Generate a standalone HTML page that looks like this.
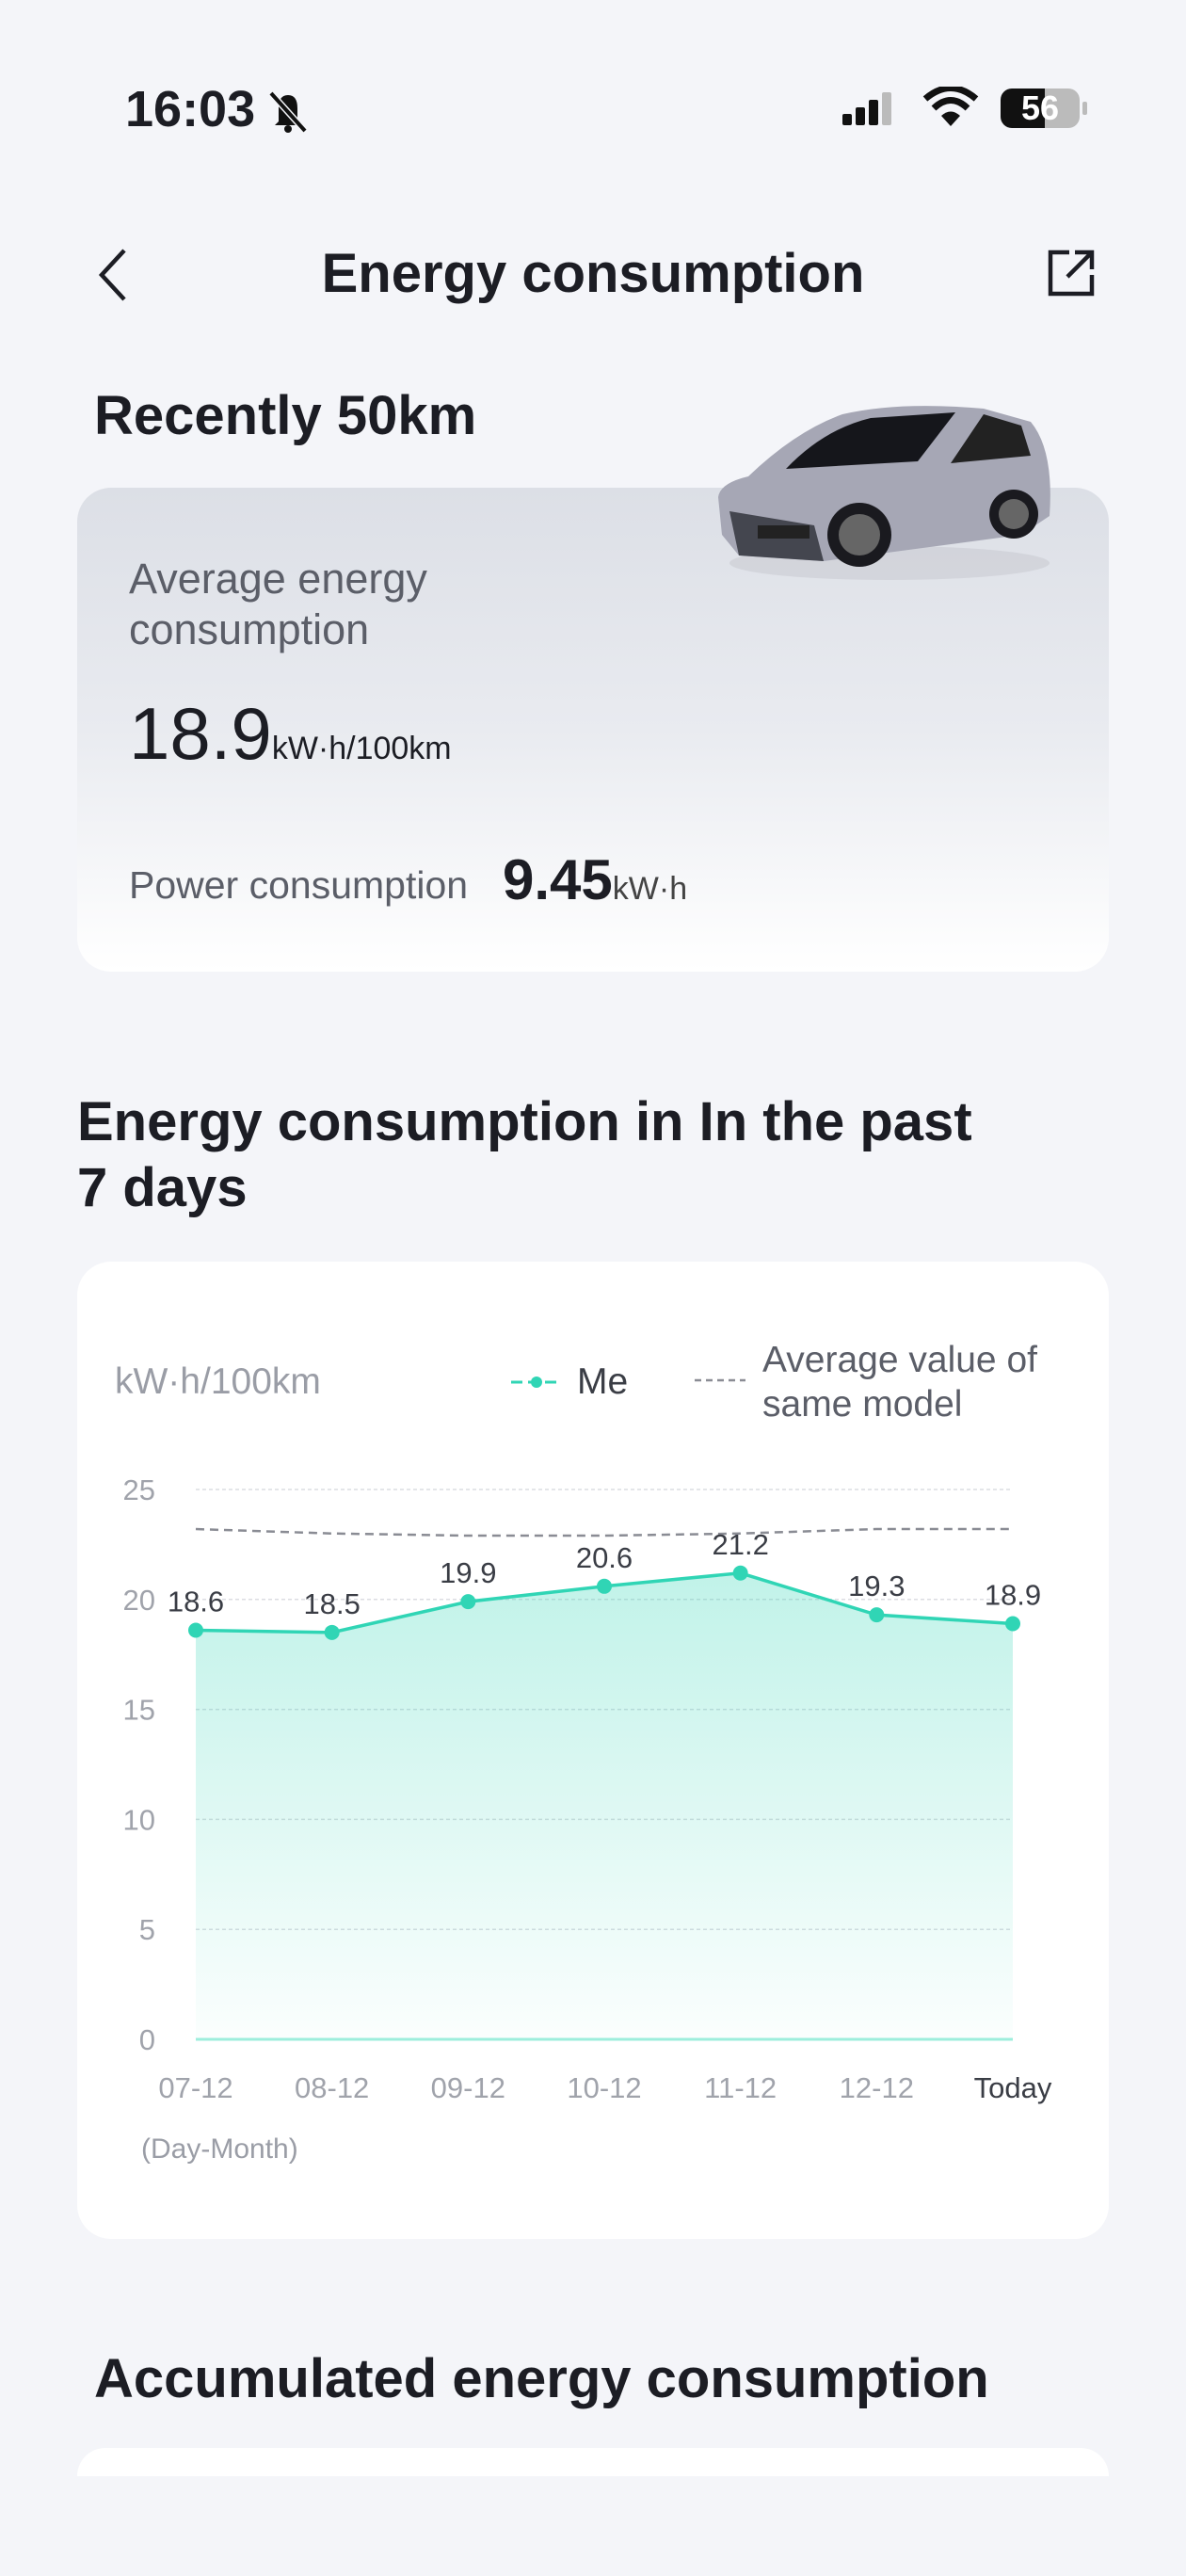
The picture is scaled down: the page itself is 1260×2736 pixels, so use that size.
<!DOCTYPE html>
<html><head><meta charset="utf-8">
<style>
*{margin:0;padding:0;box-sizing:border-box}
body{width:1260px;height:2736px;background:#f4f5f9;position:relative;overflow:hidden;font-family:"Liberation Sans",sans-serif;color:#1c1d24}
.a{position:absolute;white-space:nowrap}
.b{font-weight:bold}
</style></head><body>
<div class="a b" style="left:133px;top:86px;font-size:54px;line-height:60px">16:03</div>
<svg class="a" style="left:280px;top:93px" width="52" height="48" viewBox="0 0 52 48"><path d="M16 36 L16 22 Q16 8 26 8 Q36 8 36 22 L36 36 L40 40 L12 40 Z" fill="#111"/><circle cx="26" cy="44" r="4" fill="#111"/><line x1="8" y1="6" x2="44" y2="46" stroke="#f4f5f9" stroke-width="7"/><line x1="8" y1="6" x2="44" y2="46" stroke="#111" stroke-width="4"/></svg>
<svg class="a" style="left:893px;top:95px" width="60" height="40"><rect x="2" y="26" width="10" height="12" rx="2" fill="#111"/><rect x="16" y="19" width="10" height="19" rx="2" fill="#111"/><rect x="30" y="11" width="10" height="27" rx="2" fill="#111"/><rect x="44" y="3" width="10" height="35" rx="2" fill="#bbb"/></svg>
<svg class="a" style="left:980px;top:92px" width="60" height="44" viewBox="0 0 60 44"><path d="M30 42 L20 31 Q30 22 40 31 Z" fill="#111"/><path d="M12 23 Q30 6 48 23" stroke="#111" stroke-width="7" fill="none"/><path d="M3 13 Q30 -10 57 13" stroke="#111" stroke-width="7" fill="none"/></svg>
<div class="a b" style="left:1063px;top:94px;width:84px;height:42px;border-radius:12px;background:linear-gradient(90deg,#111 56%,#bbb 56%);color:#fff;font-size:36px;line-height:42px;text-align:center">56</div>
<div class="a" style="left:1150px;top:108px;width:5px;height:14px;background:#bbb;border-radius:2px"></div>

<svg class="a" style="left:100px;top:262px" width="40" height="60"><path d="M32 4 L8 30 L32 56" stroke="#1c1d24" stroke-width="4.5" fill="none"/></svg>
<div class="a b" style="left:0;width:1260px;text-align:center;top:257px;font-size:58px;line-height:68px">Energy consumption</div>
<svg class="a" style="left:1108px;top:260px" width="60" height="60"><path d="M28 8 L8 8 L8 52 L52 52 L52 32" stroke="#1c1d24" stroke-width="4.5" fill="none"/><path d="M26 34 L52 8 M34 8 L52 8 L52 26" stroke="#1c1d24" stroke-width="4.5" fill="none"/></svg>

<div class="a b" style="left:100px;top:408px;font-size:58px;line-height:68px">Recently 50km</div>
<div class="a" style="left:82px;top:518px;width:1096px;height:514px;border-radius:36px;background:linear-gradient(180deg,#dcdfe6 0%,#e9ebf0 50%,#ffffff 100%)"></div>
<svg class="a" style="left:755px;top:418px" width="370" height="210" viewBox="0 0 370 210">
<ellipse cx="190" cy="180" rx="170" ry="18" fill="#c9cbd2" opacity=".6"/>
<path d="M12 150 L8 110 Q10 95 40 88 Q90 40 140 22 Q200 8 290 16 L340 30 Q365 60 360 130 L330 150 L120 178 L30 172 Z" fill="#a6a7b5"/>
<path d="M80 80 Q120 38 170 26 L260 20 L220 72 Z" fill="#15161b"/>
<path d="M255 74 L290 22 L330 34 L340 66 Z" fill="#222"/>
<path d="M20 125 L110 140 L120 178 L30 172 Z" fill="#44464f"/>
<rect x="50" y="140" width="55" height="14" fill="#222"/>
<circle cx="158" cy="150" r="34" fill="#1a1a1f"/><circle cx="158" cy="150" r="22" fill="#666"/>
<circle cx="322" cy="128" r="26" fill="#1a1a1f"/><circle cx="322" cy="128" r="16" fill="#666"/>
</svg>
<div class="a" style="left:137px;top:588px;font-size:45px;line-height:54px;color:#5b5e68;white-space:normal;width:500px">Average energy consumption</div>
<div class="a" style="left:137px;top:737px;font-size:78px;line-height:84px;color:#1c1d24">18.9<span style="font-size:34px">kW·h/100km</span></div>
<div class="a" style="left:137px;top:915px;font-size:41px;line-height:50px;color:#5b5e68">Power consumption</div>
<div class="a b" style="left:534px;top:903px;font-size:60px;line-height:64px">9.45<span style="font-size:34px;font-weight:normal;color:#444">kW·h</span></div>

<div class="a b" style="left:82px;top:1157px;font-size:58px;line-height:70px">Energy consumption in In the past<br>7 days</div>
<div class="a" style="left:82px;top:1340px;width:1096px;height:1038px;border-radius:36px;background:#fff"></div>

<div class="a" style="left:122px;top:1445px;font-size:39px;line-height:46px;color:#9a9da6">kW·h/100km</div>
<svg class="a" style="left:540px;top:1456px" width="60" height="24"><line x1="3" y1="12" x2="57" y2="12" stroke="#30d5b5" stroke-width="3" stroke-dasharray="12 6"/><circle cx="30" cy="12" r="6" fill="#30d5b5"/></svg>
<div class="a" style="left:613px;top:1445px;font-size:39px;line-height:46px;color:#3a3d45">Me</div>
<svg class="a" style="left:738px;top:1460px" width="54" height="12"><line x1="0" y1="6" x2="54" y2="6" stroke="#8a8c94" stroke-width="2.5" stroke-dasharray="7 5"/></svg>
<div class="a" style="left:810px;top:1421px;font-size:39px;line-height:47px;color:#5b5e68">Average value of<br>same model</div>

<svg id="chart" class="a" style="left:0;top:0" width="1260" height="2736"></svg>
<div class="a" style="left:150px;top:2264px;font-size:30px;line-height:38px;color:#9a9da6">(Day-Month)</div>

<div class="a b" style="left:100px;top:2493px;font-size:58px;line-height:68px">Accumulated energy consumption</div>
<div class="a" style="left:82px;top:2600px;width:1096px;height:30px;border-radius:36px 36px 0 0;background:#fff"></div>

<script>
const categories=["07-12","08-12","09-12","10-12","11-12","12-12","Today"];
const meValues=[18.6,18.5,19.9,20.6,21.2,19.3,18.9];
const avgValues=[23.2,23.0,22.9,22.9,23.0,23.2,23.2];
const yTicks=[0,5,10,15,20,25];
const NS="http://www.w3.org/2000/svg";
const svg=document.getElementById('chart');
const x0=208,x1=1076,yb=2166,yt=1582,yMax=25;
function xs(i){return x0+(x1-x0)*i/(categories.length-1);}
function ys(v){return yb-(yb-yt)*v/yMax;}
function mk(t,a){const e=document.createElementNS(NS,t);for(const k in a)e.setAttribute(k,a[k]);svg.appendChild(e);return e;}
const defs=mk('defs',{});
defs.innerHTML='<linearGradient id="fg" x1="0" y1="0" x2="0" y2="1"><stop offset="0" stop-color="#30d5b5" stop-opacity="0.3"/><stop offset="1" stop-color="#30d5b5" stop-opacity="0.02"/></linearGradient>';
yTicks.forEach(v=>{
  const g=mk('line',{x1:x0,x2:x1,y1:ys(v),y2:ys(v),stroke:v===0?'#9eeedc':'#dcdde2','stroke-width':v===0?3:1.5,'stroke-dasharray':v===0?'':'4 3'});
  
  
  const t=mk('text',{x:165,y:ys(v)+11,'text-anchor':'end','font-size':31,fill:'#a0a3ab','font-family':'Liberation Sans, sans-serif'});
  t.textContent=v;
  
  
});
let d='M'+xs(0)+' '+ys(meValues[0]);
meValues.forEach((v,i)=>{if(i)d+=' L'+xs(i)+' '+ys(v);});
const area=mk('path',{d:d+' L'+xs(categories.length-1)+' '+yb+' L'+x0+' '+yb+' Z',fill:'url(#fg)'});


let da='M'+xs(0)+' '+ys(avgValues[0]);
avgValues.forEach((v,i)=>{if(i)da+=' L'+xs(i)+' '+ys(v);});
const avg=mk('path',{d:da,fill:'none',stroke:'#8a8c94','stroke-width':2.5,'stroke-dasharray':'9 6'});


const me=mk('path',{d:d,fill:'none',stroke:'#30d5b5','stroke-width':3.5});


meValues.forEach((v,i)=>{
  const c=mk('circle',{cx:xs(i),cy:ys(v),r:8,fill:'#30d5b5'});
  
  
  const t=mk('text',{x:xs(i),y:ys(v)-20,'text-anchor':'middle','font-size':31,fill:'#3a3d45','font-family':'Liberation Sans, sans-serif'});
  t.textContent=v.toFixed(1);
  
  
});
categories.forEach((c,i)=>{
  const t=mk('text',{x:xs(i),y:2228,'text-anchor':'middle','font-size':31,fill:c==='Today'?'#3a3d45':'#a0a3ab','font-family':'Liberation Sans, sans-serif'});
  t.textContent=c;
  
  
});
</script>
</body></html>
